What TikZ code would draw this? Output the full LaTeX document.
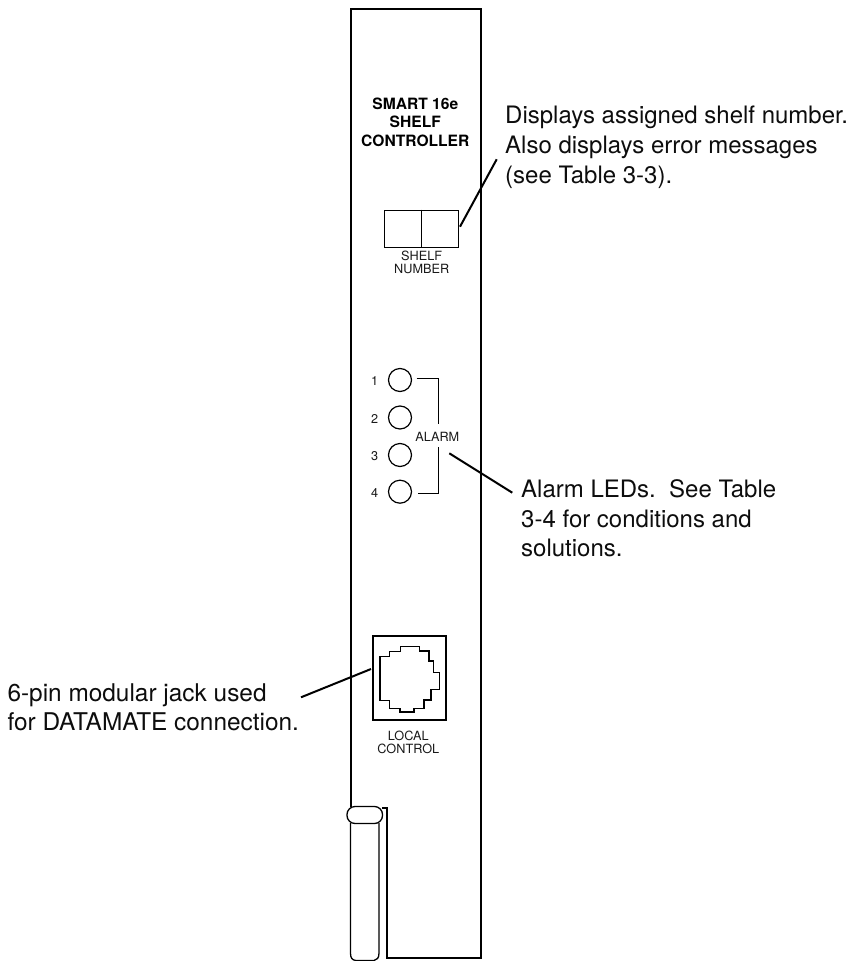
\documentclass[tikz,border=0pt]{standalone}
\usepackage{fontspec}
\setmainfont{TeX Gyre Heros}
\tikzset{
 main/.style={inner sep=0pt,align=left,anchor=base west,font=\fontsize{24}{29.7}\selectfont,text=black!95},
 small/.style={inner sep=0pt,align=center,anchor=base,font=\fontsize{12.7}{13.3}\selectfont,text=black!90},
 title/.style={inner sep=0pt,align=center,anchor=base,font=\fontsize{15.6}{18.5}\selectfont\bfseries},
 thick line/.style={line width=2pt,line cap=butt},
 thin line/.style={line width=1pt},
 med line/.style={line width=1.3pt},
 led/.style={circle,draw,line width=1.2pt,minimum size=23pt,inner sep=0pt}
}
\begin{document}
\begin{tikzpicture}[x=1pt,y=-1pt]
\useasboundingbox (0,0) rectangle (855,961);
% panel
\draw[thick line,line join=miter] (350.5,807) -- (350.5,8.5) -- (480.5,8.5) -- (480.5,957.5) -- (387,957.5) -- (387,808) -- (382,808);
% handle
\draw[med line] (350.5,823) -- (350.5,953) .. controls (350.5,958) and (352,960) .. (356,960.5) -- (374,960.5) .. controls (377,960) and (379,958) .. (379,953) -- (379,823);
\draw[med line,rounded corners=8pt] (347,806.5) rectangle (382.5,823.5);
% title
\node[title] (ttl) at (415.3,146) {SMART 16e\\SHELF\\CONTROLLER};
% shelf display
\node[draw,thin line,minimum width=74pt,minimum height=37pt,inner sep=0pt] (disp) at (421,228.7) {};
\draw[thin line] (disp.north) -- (disp.south);
\node[small] (shelf) at (421.7,273.3) {SHELF\\NUMBER};
\coordinate (a0) at (460,226.7);
\coordinate (a1) at (496.7,159.3);
\draw[thick line] (a0) -- (a1);
\node[main] (t1) at (505,183.3) {Displays assigned shelf number.\\Also displays error messages\\(see Table 3-3).};
% LEDs
\node[led] (l1) at (400,380) {};
\node[led] (l2) at (400,417.5) {};
\node[led] (l3) at (400,455) {};
\node[led] (l4) at (400,491.7) {};
\node[small] (n1) at (374.7,385) {1};
\node[small] (n2) at (374.7,423.3) {2};
\node[small] (n3) at (374.7,460.7) {3};
\node[small] (n4) at (374.7,497.3) {4};
\node[small] (alarm) at (437.3,441.7) {ALARM};
\coordinate (b1) at (416.7,378);
\coordinate (b2) at (438.3,424);
\coordinate (b3) at (418,493.3);
\coordinate (b4) at (438.3,447.3);
\draw[thin line] (b1) -| (b2);
\draw[thin line] (b3) -| (b4);
\coordinate (a2) at (449.3,453.3);
\coordinate (a3) at (512.3,492.7);
\draw[thick line] (a2) -- (a3);
\node[main] (t2) at (521,556.7) {Alarm LEDs.\ \ See Table\\3-4 for conditions and\\solutions.};
% jack
\node[draw,thick line,minimum width=73pt,minimum height=84pt,inner sep=0pt] (jack) at (409.2,678) {};
\draw[med line] (380,656.7)--(389.3,656.7)--(389.3,651.7)--(400.7,651.7)--(400.7,646.7)--(419.3,646.7)--(419.3,651)--(429,651)--(429,661)--(433.3,661)--(433.3,672.3)--(439.3,672.3)--(439.3,689.3)--(431,689.3)--(431,700)--(424,700)--(424,708.3)--(414,708.3)--(414,712)--(400,712)--(400,708.3)--(389.3,708.3)--(389.3,700.7)--(380,700.7)--cycle;
\node[small] (lc) at (408.3,753.3) {LOCAL\\CONTROL};
\coordinate (a4) at (301,697.3);
\coordinate (a5) at (371,669);
\draw[thick line] (a4) -- (a5);
\node[main,font=\fontsize{24.4}{29}\selectfont] (t3) at (7.3,730.7) {6-pin modular jack used\\for DATAMATE connection.};
\end{tikzpicture}
\end{document}
